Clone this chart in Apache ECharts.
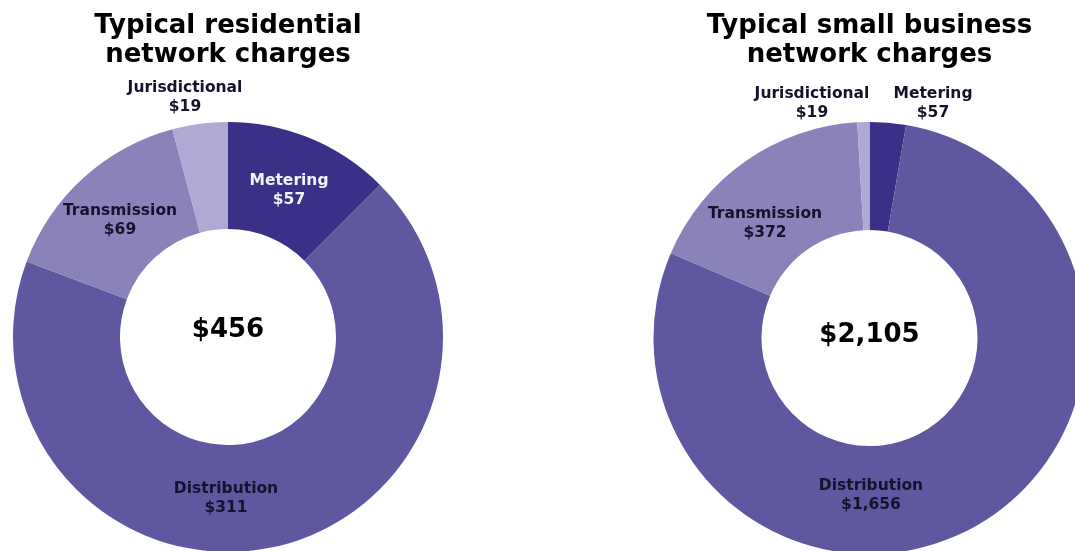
<!DOCTYPE html>
<html><head><meta charset="utf-8">
<script src="https://cdn.jsdelivr.net/npm/echarts@6/dist/echarts.min.js"></script>
<style>html,body{margin:0;padding:0;background:#fff}#c{width:1075px;height:551px}</style>
</head><body><div id="c"></div>
<script>
var categories = ['Metering', 'Distribution', 'Transmission', 'Jurisdictional'];
var residentialValues = [57, 311, 69, 19];
var businessValues = [57, 1656, 372, 19];
var chartTitles = ['Typical residential\nnetwork charges', 'Typical small business\nnetwork charges'];
var totalLabels = ['$456', '$2,105'];

var colors = ['#3a3088', '#6057a1', '#8a83b9', '#afa9d3'];
var FONT = 'DejaVu Sans';

function fmt(v) { return '$' + v.toLocaleString('en-US'); }

// label anchor positions (layout only)
var layouts = [
  [[289, 190, '#f4f2fb'], [226, 498, '#15122b'], [120, 220, '#15122b'], [185, 97, '#15122b']],
  [[933, 103, '#15122b'], [871, 495, '#15122b'], [765, 223, '#15122b'], [812, 103, '#15122b']]
];
var centers = [[228, 337], [869.5, 338]];
var radii = [[108, 215], [108, 216]];

function buildSeries(vals, idx) {
  return {
    type: 'pie',
    center: centers[idx],
    radius: radii[idx],
    startAngle: 90,
    clockwise: true,
    avoidLabelOverlap: false,
    silent: true,
    itemStyle: { borderWidth: 0 },
    label: {
      show: true,
      position: 'inside',
      fontFamily: FONT,
      fontWeight: 'bold',
      fontSize: 15.5,
      lineHeight: 19,
      align: 'center',
      formatter: function (p) { return p.name + '\n' + fmt(p.value); }
    },
    labelLine: { show: false },
    labelLayout: function (p) {
      var l = layouts[idx][p.dataIndex];
      return { x: l[0], y: l[1], align: 'center', verticalAlign: 'middle' };
    },
    data: categories.map(function (c, i) {
      return {
        name: c, value: vals[i],
        itemStyle: { color: colors[i] },
        label: { color: layouts[idx][i][2] }
      };
    })
  };
}

var chart = echarts.init(document.getElementById('c'), null, { renderer: 'canvas' });
chart.setOption({
  animation: false,
  backgroundColor: '#fff',
  series: [buildSeries(residentialValues, 0), buildSeries(businessValues, 1)],
  graphic: [0, 1].map(function (i) {
    return {
      type: 'text', x: centers[i][0], y: 12,
      style: { text: chartTitles[i], fill: '#000', fontFamily: FONT, fontWeight: 'bold', fontSize: 26, align: 'center', lineHeight: 29, verticalAlign: 'top' }
    };
  }).concat([0, 1].map(function (i) {
    return {
      type: 'text', x: centers[i][0], y: [330, 335][i],
      style: { text: totalLabels[i], fill: '#000', fontFamily: FONT, fontWeight: 'bold', fontSize: 26, align: 'center', verticalAlign: 'middle' }
    };
  }))
});
</script></body></html>
